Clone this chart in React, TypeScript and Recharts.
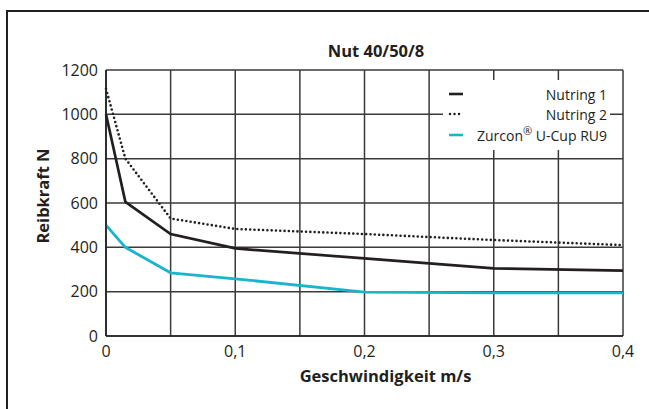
import React from "react";
import { LineChart, Line, XAxis, YAxis, CartesianGrid, Legend, Label } from "recharts";

// ---- data ----
const speeds = [0, 0.015, 0.05, 0.1, 0.2, 0.3, 0.4];
const nutring1 = [1000, 605, 460, 395, 350, 305, 295];
const nutring2 = [1115, 800, 530, 483, 460, 433, 410];
const zurcon = [500, 400, 285, 258, 198, 195, 195];

const xGridTicks = [0, 0.05, 0.1, 0.15, 0.2, 0.25, 0.3, 0.35, 0.4];
const xLabelTicks = [0, 0.1, 0.2, 0.3, 0.4];
const xTickLabels = ["0", "0,1", "0,2", "0,3", "0,4"];
const yTicks = [0, 200, 400, 600, 800, 1000, 1200];

const title = "Nut 40/50/8";
const xTitle = "Geschwindigkeit m/s";
const yTitle = "Reibkraft N";

const seriesNames = ["Nutring 1", "Nutring 2", "Zurcon® U-Cup RU9"];

const data = speeds.map((s, i) => ({
  x: s,
  n1: nutring1[i],
  n2: nutring2[i],
  z: zurcon[i],
}));

const INK = "#231f20";
const CYAN = "#19b5cb";
const FONT = "'Open Sans', sans-serif";

const fmtX = (v: number) => {
  const idx = xLabelTicks.findIndex((t) => Math.abs(t - v) < 1e-9);
  return idx >= 0 ? xTickLabels[idx] : "";
};

const Swatch = ({ color, dotted }: { color: string; dotted?: boolean }) => (
  <svg width={16} height={6} style={{ display: "block" }}>
    <line
      x1={dotted ? 2 : 1}
      y1={3}
      x2={15}
      y2={3}
      stroke={color}
      strokeWidth={dotted ? 2.5 : 2.6}
      strokeDasharray={dotted ? "0 4.5" : undefined}
      strokeLinecap={dotted ? "round" : "butt"}
    />
  </svg>
);

const renderLegend = () => (
  <div
    style={{
      fontFamily: FONT,
      fontSize: 14,
      color: INK,
      padding: "4px 3px 0 5px",
      boxSizing: "border-box",
      width: "100%",
      height: "100%",
      background: "#fff",
    }}
  >
    <div style={{ display: "flex", justifyContent: "space-between", alignItems: "center", height: 20 }}>
      <Swatch color={INK} />
      <span>{seriesNames[0]}</span>
    </div>
    <div style={{ display: "flex", justifyContent: "space-between", alignItems: "center", height: 20 }}>
      <Swatch color={INK} dotted />
      <span>{seriesNames[1]}</span>
    </div>
    <div style={{ display: "flex", justifyContent: "space-between", alignItems: "center", height: 22 }}>
      <Swatch color={CYAN} />
      <span>
        {seriesNames[2].split("®")[0]}
        <sup style={{ fontSize: 11, lineHeight: 0 }}>®</sup>
        {seriesNames[2].split("®")[1]}
      </span>
    </div>
  </div>
);

export default function App() {
  return (
    <div style={{ position: "absolute", left: 0, top: 0, width: 649, height: 409, background: "#fff", overflow: "hidden" }}>
      <div
        style={{
          position: "absolute",
          left: 6,
          top: 10,
          width: 660,
          height: 420,
          borderTop: `2px solid ${INK}`,
          borderLeft: `2px solid ${INK}`,
        }}
      />
      <div
        style={{
          position: "absolute",
          left: 276,
          top: 41,
          width: 200,
          textAlign: "center",
          fontFamily: FONT,
          fontWeight: 700,
          fontSize: 16.5,
          lineHeight: "20px",
          color: INK,
        }}
      >
        {title}
      </div>
      <div style={{ position: "absolute", left: 0, top: 0 }}>
        <LineChart
          width={649}
          height={409}
          data={data}
          margin={{ top: 70, right: 26, bottom: 43, left: 46 }}
        >
          <CartesianGrid stroke="#3a3a3a" strokeWidth={1.5} horizontalValues={yTicks} verticalValues={xGridTicks} />
          <XAxis
            dataKey="x"
            type="number"
            domain={[0, 0.4]}
            ticks={xGridTicks}
            tickFormatter={fmtX}
            interval={0}
            height={30}
            axisLine={{ stroke: INK, strokeWidth: 1.6 }}
            tickLine={false}
            tickSize={0}
            tickMargin={10}
            tick={{ fill: INK, fontFamily: FONT, fontSize: 16 }}
          >
            <Label
              content={(p: any) => {
                const vb = p.viewBox;
                return (
                  <text
                    x={vb.x + vb.width / 2 + 21}
                    y={vb.y + vb.height + 16}
                    textAnchor="middle"
                    fontFamily={FONT}
                    fontWeight={700}
                    fontSize={16.5}
                    fill={INK}
                  >
                    {xTitle}
                  </text>
                );
              }}
            />
          </XAxis>
          <YAxis
            type="number"
            domain={[0, 1200]}
            ticks={yTicks}
            interval={0}
            width={60}
            axisLine={{ stroke: INK, strokeWidth: 1.6 }}
            tickLine={false}
            tickSize={0}
            tickMargin={8}
            tick={{ fill: INK, fontFamily: FONT, fontSize: 16 }}
          >
            <Label
              content={(p: any) => {
                const vb = p.viewBox;
                const cx = vb.x + 3;
                const cy = vb.y + vb.height / 2 - 7;
                return (
                  <text
                    x={cx}
                    y={cy}
                    transform={`rotate(-90 ${cx} ${cy})`}
                    textAnchor="middle"
                    fontFamily={FONT}
                    fontWeight={700}
                    fontSize={16.5}
                    fill={INK}
                  >
                    {yTitle}
                  </text>
                );
              }}
            />
          </YAxis>
          <Legend
            layout="vertical"
            align="center"
            verticalAlign="middle"
            content={renderLegend}
            wrapperStyle={{ left: 443, top: 80, width: 167, height: 70, right: "auto", bottom: "auto" }}
          />
          <Line
            dataKey="n2"
            name={seriesNames[1]}
            stroke={INK}
            strokeWidth={2.6}
            strokeDasharray="0 4.3"
            strokeLinecap="round"
            dot={false}
            activeDot={false}
            isAnimationActive={false}
            type="linear"
          />
          <Line
            dataKey="n1"
            name={seriesNames[0]}
            stroke={INK}
            strokeWidth={2.7}
            dot={false}
            activeDot={false}
            isAnimationActive={false}
            type="linear"
          />
          <Line
            dataKey="z"
            name={seriesNames[2]}
            stroke={CYAN}
            strokeWidth={2.8}
            dot={false}
            activeDot={false}
            isAnimationActive={false}
            type="linear"
          />
        </LineChart>
      </div>
    </div>
  );
}
